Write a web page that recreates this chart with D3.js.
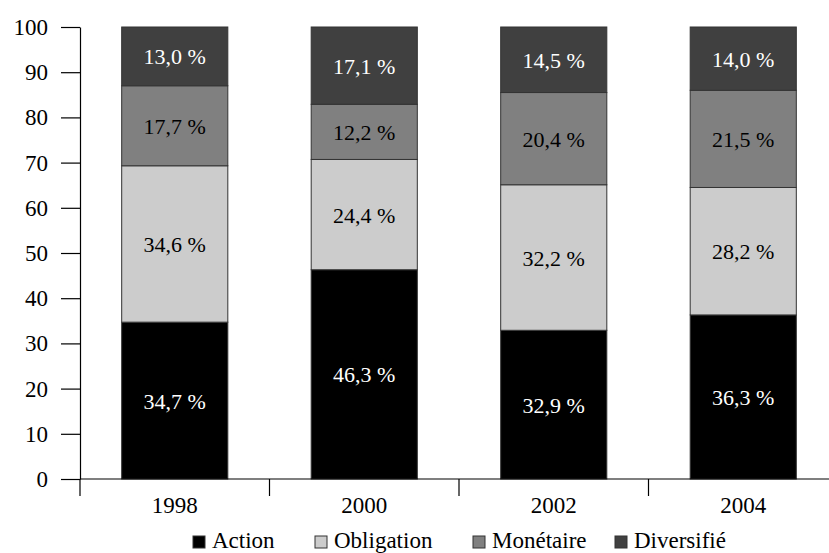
<!DOCTYPE html>
<html>
<head>
<meta charset="utf-8">
<script src="https://cdn.jsdelivr.net/npm/d3@7"></script>
<style>
  html, body { margin: 0; padding: 0; background: #fff; }
</style>
</head>
<body>
<svg id="chart" width="829" height="553"></svg>
<script>
// Répartition des encours par catégorie (en %)
const years = ["1998", "2000", "2002", "2004"];
const seriesNames = ["Action", "Obligation", "Monétaire", "Diversifié"];
const action     = [34.7, 46.3, 32.9, 36.3];
const obligation = [34.6, 24.4, 32.2, 28.2];
const monetaire  = [17.7, 12.2, 20.4, 21.5];
const diversifie = [13.0, 17.1, 14.5, 14.0];
const yTicks = [0, 10, 20, 30, 40, 50, 60, 70, 80, 90, 100];

const colors = ["#000000", "#cccccc", "#808080", "#404040"];
const textColors = ["#ffffff", "#000000", "#000000", "#ffffff"];
const FONT = "Liberation Serif";

const rows = years.map((yr, i) => ({
  year: yr,
  "Action": action[i],
  "Obligation": obligation[i],
  "Monétaire": monetaire[i],
  "Diversifié": diversifie[i]
}));

const stack = d3.stack().keys(seriesNames)(rows);

const svg = d3.select("#chart");
const mLeft = 80, mTop = 27, mBottom = 479;
const step = 189.5;

const x = d3.scaleBand().domain(years).range([mLeft, mLeft + 4 * step])
  .paddingInner(0.44).paddingOuter(0.22);
const y = d3.scaleLinear().domain([0, 100]).range([mBottom, mTop]);

// Axe des ordonnées
const yAxis = svg.append("g")
  .attr("transform", `translate(${mLeft},0)`)
  .call(d3.axisLeft(y).tickValues(yTicks).tickSize(19).tickPadding(13).tickSizeOuter(0));
yAxis.attr("font-family", FONT);
yAxis.select(".domain").attr("stroke", "#000").attr("stroke-width", 1.2);
yAxis.selectAll(".tick line").attr("stroke", "#000").attr("stroke-width", 1.2);
yAxis.selectAll(".tick text")
  .attr("font-family", FONT)
  .attr("font-size", 23).attr("fill", "#000").attr("dy", "0.33em");

// Barres empilées
const layers = svg.append("g").selectAll("g")
  .data(stack).join("g")
  .attr("fill", (d, i) => colors[i]);

layers.selectAll("rect")
  .data(d => d)
  .join("rect")
  .attr("x", d => x(d.data.year))
  .attr("width", x.bandwidth())
  .attr("y", d => y(d[1]))
  .attr("height", d => y(d[0]) - y(d[1]))
  .attr("stroke", "#333")
  .attr("stroke-width", 1);

// Étiquettes de valeurs
const fmt = v => v.toFixed(1).replace(".", ",") + " %";
stack.forEach((layer, i) => {
  svg.append("g").selectAll("text")
    .data(layer).join("text")
    .attr("font-family", FONT)
    .attr("x", d => x(d.data.year) + x.bandwidth() / 2)
    .attr("y", d => (y(d[0]) + y(d[1])) / 2 + 8)
    .attr("text-anchor", "middle")
    .attr("font-size", 22)
    .attr("fill", textColors[i])
    .text(d => fmt(d[1] - d[0]));
});

// Axe des abscisses
const xTickPos = d3.range(0, 5).map(i => mLeft + i * step);
const xAxisG = svg.append("g");
xAxisG.append("line")
  .attr("x1", mLeft).attr("x2", 829).attr("y1", mBottom).attr("y2", mBottom)
  .attr("stroke", "#000").attr("stroke-width", 1.2);
xAxisG.selectAll("line.tk").data(xTickPos).join("line")
  .attr("class", "tk")
  .attr("x1", d => d).attr("x2", d => d)
  .attr("y1", mBottom).attr("y2", mBottom + 17)
  .attr("stroke", "#000").attr("stroke-width", 1.2);
xAxisG.selectAll("text").data(years).join("text")
  .attr("font-family", FONT)
  .attr("x", d => x(d) + x.bandwidth() / 2)
  .attr("y", 513)
  .attr("text-anchor", "middle")
  .attr("font-size", 23)
  .text(d => d);

// Légende
const legendX = [193, 315, 473, 615];
const legend = svg.append("g").selectAll("g")
  .data(seriesNames).join("g")
  .attr("transform", (d, i) => `translate(${legendX[i]},536)`);
legend.append("rect")
  .attr("width", 12).attr("height", 12)
  .attr("fill", (d, i) => colors[i])
  .attr("stroke", "#333").attr("stroke-width", 1);
legend.append("text")
  .attr("font-family", FONT)
  .attr("x", 19).attr("y", 12)
  .attr("font-size", 23)
  .text(d => d);
</script>
</body>
</html>
